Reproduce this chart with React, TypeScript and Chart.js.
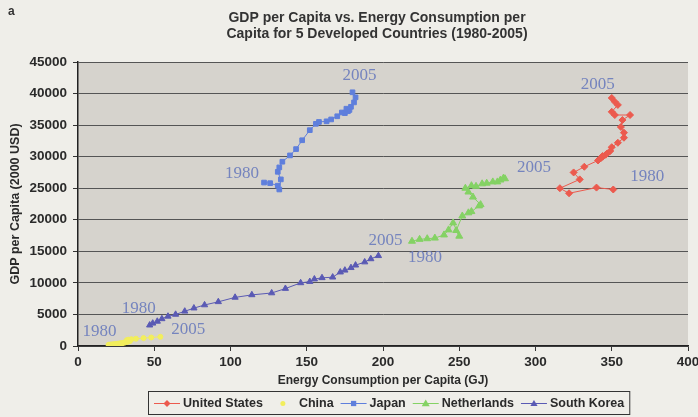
import React, { useEffect, useRef } from "react";
import { Chart, registerables } from "chart.js";

Chart.register(...registerables);

// ---------- DATA ----------
const years = [
  1980, 1981, 1982, 1983, 1984, 1985, 1986, 1987, 1988, 1989, 1990, 1991, 1992,
  1993, 1994, 1995, 1996, 1997, 1998, 1999, 2000, 2001, 2002, 2003, 2004, 2005,
];

const usEnergy = [351, 340, 322, 316, 329, 325, 332, 341, 344, 346, 344, 343, 347, 349, 350, 354, 358, 358, 356, 357, 362, 352, 350, 354, 352, 350];
const usGdp = [24800, 25100, 24200, 25000, 26400, 27500, 28400, 29400, 30000, 30300, 30100, 29800, 30500, 30900, 31500, 32200, 33000, 33800, 34700, 35800, 36600, 36600, 37100, 38200, 38700, 39300];

const chinaEnergy = [20, 21, 21, 22, 23, 24, 25, 26, 27, 28, 28, 29, 30, 31, 32, 33, 34, 34, 33, 32, 33, 35, 38, 43, 48, 54];
const chinaGdp = [190, 200, 215, 235, 260, 290, 320, 350, 390, 400, 410, 450, 510, 580, 650, 720, 780, 840, 880, 930, 1000, 1070, 1150, 1250, 1350, 1450];

const japanEnergy = [122, 126, 131, 132, 133, 131, 132, 134, 139, 143, 147, 152, 156, 158, 163, 166, 170, 173, 175, 177, 176, 178, 179, 181, 182, 180];
const japanGdp = [25900, 25800, 25400, 24800, 26400, 27600, 28300, 29200, 30200, 31200, 32600, 34200, 35200, 35500, 35600, 35900, 36400, 37000, 36900, 37200, 37600, 37400, 37900, 38600, 39400, 40200];

const nlEnergy = [219, 224, 229, 234, 240, 243, 246, 250, 248, 252, 256, 258, 263, 264, 259, 256, 254, 258, 261, 265, 268, 272, 275, 277, 279, 280];
const nlGdp = [16600, 16900, 17000, 17100, 17600, 18400, 19500, 17400, 18300, 20600, 21100, 21300, 22200, 22400, 23600, 24400, 25000, 25400, 25300, 25700, 25800, 26000, 26000, 26300, 26600, 26500];

const krEnergy = [47, 49, 52, 55, 59, 64, 70, 76, 83, 92, 103, 114, 127, 136, 146, 152, 155, 160, 167, 172, 175, 179, 182, 188, 192, 197];
const krGdp = [3300, 3600, 3900, 4300, 4700, 5000, 5500, 6000, 6500, 7000, 7700, 8100, 8400, 9100, 10000, 10200, 10600, 10800, 10900, 11700, 12000, 12400, 12800, 13300, 13800, 14300];

const seriesNames = ["United States", "China", "Japan", "Netherlands", "South Korea"];
const xTickValues = [0, 50, 100, 150, 200, 250, 300, 350, 400];
const yTickValues = [0, 5000, 10000, 15000, 20000, 25000, 30000, 35000, 40000, 45000];

const titleLines = [
  "GDP per Capita vs. Energy Consumption per",
  "Capita for 5 Developed Countries (1980-2005)",
];
const xTitle = "Energy Consumption per Capita (GJ)";
const yTitle = "GDP per Capita (2000 USD)";
const panelLetter = "a";

// year annotations: series index, year
const yearLabels = [
  { series: 0, year: 1980 },
  { series: 0, year: 2005 },
  { series: 1, year: 1980 },
  { series: 1, year: 2005 },
  { series: 2, year: 1980 },
  { series: 2, year: 2005 },
  { series: 3, year: 1980 },
  { series: 3, year: 2005 },
  { series: 4, year: 1980 },
  { series: 4, year: 2005 },
];

// ---------- STYLE ----------
const labelOffsets: [number, number][] = [
  [34, -13], [-14, -13],
  [-9, -13], [28, -7],
  [-22, -9], [7, -17],
  [13, 16], [29, -11],
  [-11, -17], [7, -15],
];

const seriesStyle = [
  { color: "#ec5a4e", shape: "rectRot", radius: 3.5, line: true },
  { color: "#f2ee5c", shape: "circle", radius: 2.5, line: true },
  { color: "#5f7fdc", shape: "rect", radius: 3.3, line: true },
  { color: "#84d264", shape: "triangle", radius: 4, line: true },
  { color: "#5a5ab4", shape: "triangle", radius: 3.6, line: true },
];

const seriesData = [
  [usEnergy, usGdp],
  [chinaEnergy, chinaGdp],
  [japanEnergy, japanGdp],
  [nlEnergy, nlGdp],
  [krEnergy, krGdp],
];

const SANS = "'Liberation Sans', Arial, sans-serif";
const SERIF = "'Liberation Serif', 'Times New Roman', serif";

function drawMarker(ctx: CanvasRenderingContext2D, shape: string, x: number, y: number, r: number, color: string) {
  ctx.save();
  ctx.fillStyle = color;
  ctx.strokeStyle = color;
  ctx.beginPath();
  if (shape === "rectRot") {
    ctx.moveTo(x, y - r); ctx.lineTo(x + r, y); ctx.lineTo(x, y + r); ctx.lineTo(x - r, y); ctx.closePath();
  } else if (shape === "rect") {
    ctx.rect(x - r * 0.8, y - r * 0.8, r * 1.6, r * 1.6);
  } else if (shape === "triangle") {
    ctx.moveTo(x, y - r); ctx.lineTo(x + r, y + r * 0.7); ctx.lineTo(x - r, y + r * 0.7); ctx.closePath();
  } else {
    ctx.arc(x, y, r, 0, Math.PI * 2);
  }
  ctx.fill();
  ctx.restore();
}

const decorPlugin = {
  id: "decor",
  beforeDraw(chart: any) {
    const { ctx, chartArea: a, width, height } = chart;
    ctx.save();
    ctx.fillStyle = "#efeee9";
    ctx.fillRect(0, 0, width, height);
    ctx.fillStyle = "#d6d3cd";
    ctx.fillRect(a.left, a.top, a.right - a.left, a.bottom - a.top);
    ctx.restore();
  },
  afterDatasetsDraw(chart: any) {
    const { ctx } = chart;
    const xs = chart.scales.x;
    const ys = chart.scales.y;
    ctx.save();
    ctx.font = `17px ${SERIF}`;
    ctx.fillStyle = "#7584be";
    ctx.textAlign = "center";
    ctx.textBaseline = "middle";
    yearLabels.forEach((lab, k) => {
      const [en, gd] = seriesData[lab.series];
      const i = years.indexOf(lab.year);
      const px = xs.getPixelForValue(en[i]);
      const py = ys.getPixelForValue(gd[i]);
      const [dx, dy] = labelOffsets[k];
      ctx.fillText(String(lab.year), px + dx, py + dy);
    });
    ctx.restore();
  },
  afterDraw(chart: any) {
    const { ctx } = chart;
    ctx.save();
    // panel letter
    ctx.fillStyle = "#333";
    ctx.font = `bold 12px ${SANS}`;
    ctx.textAlign = "left";
    ctx.textBaseline = "middle";
    ctx.fillText(panelLetter, 8, 12);
    // title
    ctx.textAlign = "center";
    ctx.font = `bold 14px ${SANS}`;
    ctx.fillText(titleLines[0], 377, 18);
    ctx.fillText(titleLines[1], 377, 34);

    // legend
    ctx.font = `bold 12.5px ${SANS}`;
    const top = 391, h = 23;
    let x = 154;
    const cy = top + h / 2 + 1;
    seriesNames.forEach((name, i) => {
      const st = seriesStyle[i];
      if (i !== 1) {
        ctx.strokeStyle = st.color;
        ctx.lineWidth = 1;
        ctx.beginPath();
        ctx.moveTo(x, cy);
        ctx.lineTo(x + 26, cy);
        ctx.stroke();
      }
      drawMarker(ctx, st.shape, x + 13, cy, st.radius, st.color);
      ctx.fillStyle = "#2a2a2a";
      ctx.textAlign = "left";
      ctx.fillText(name, x + 29, cy);
      const w = ctx.measureText(name).width;
      x = x + 29 + w + 7;
    });
    ctx.strokeStyle = "#333";
    ctx.lineWidth = 1;
    ctx.strokeRect(148.5, top + 0.5, x - 148 - 2, h);
    ctx.restore();
  },
};

export default function App() {
  const ref = useRef<HTMLCanvasElement>(null);
  useEffect(() => {
    document.body.style.margin = "0";
    const canvas = ref.current!;
    const datasets = seriesNames.map((name, i) => {
      const st = seriesStyle[i];
      const [en, gd] = seriesData[i];
      return {
        label: name,
        data: en.map((v, k) => ({ x: v, y: gd[k] })),
        showLine: st.line,
        borderColor: st.color,
        backgroundColor: st.color,
        borderWidth: 1,
        pointStyle: st.shape as any,
        pointRadius: st.radius,
        pointBorderWidth: 1,
        pointBackgroundColor: st.color,
        pointBorderColor: st.color,
      };
    });
    const tickFont = { family: SANS, size: 13.5, weight: "bold" };
    const chart = new Chart(canvas, {
      type: "scatter",
      data: { datasets },
      plugins: [decorPlugin],
      options: {
        responsive: false,
        animation: false,
        layout: { padding: { top: 62, left: 0, right: 10, bottom: 0 } },
        plugins: { legend: { display: false }, title: { display: false }, tooltip: { enabled: false } },
        scales: {
          x: {
            type: "linear",
            min: 0,
            max: 400,
            afterBuildTicks: (s: any) => { s.ticks = xTickValues.map((v) => ({ value: v })); },
            afterFit: (s: any) => { s.height = 71; s.paddingLeft = 0; s.paddingRight = 0; },
            ticks: { color: "#2a2a2a", font: tickFont, padding: 3, maxRotation: 0, callback: (v: any) => String(v) },
            grid: { display: true, drawOnChartArea: false, drawTicks: true, tickLength: 5, tickColor: "#333" },
            border: { color: "#222", width: 1.5 },
            title: { display: true, text: xTitle, color: "#2a2a2a", font: { family: SANS, size: 12, weight: "bold" }, padding: { top: 0, bottom: 29 } },
          },
          y: {
            type: "linear",
            min: 0,
            max: 45000,
            afterBuildTicks: (s: any) => { s.ticks = yTickValues.map((v) => ({ value: v })); },
            afterFit: (s: any) => { s.width = 78; },
            ticks: { color: "#2a2a2a", font: tickFont, padding: 6, callback: (v: any) => String(v) },
            grid: { color: "#555", lineWidth: 1, tickLength: 5, tickColor: "#333" },
            border: { color: "#222", width: 1.5 },
            title: { display: true, text: yTitle, color: "#2a2a2a", font: { family: SANS, size: 12.5, weight: "bold" }, padding: { top: 8, bottom: 0 } },
          },
        },
      } as any,
    });
    return () => chart.destroy();
  }, []);
  return (
    <div style={{ width: 698, height: 417 }}>
      <canvas ref={ref} width={698} height={417} style={{ display: "block", width: 698, height: 417 }} />
    </div>
  );
}
